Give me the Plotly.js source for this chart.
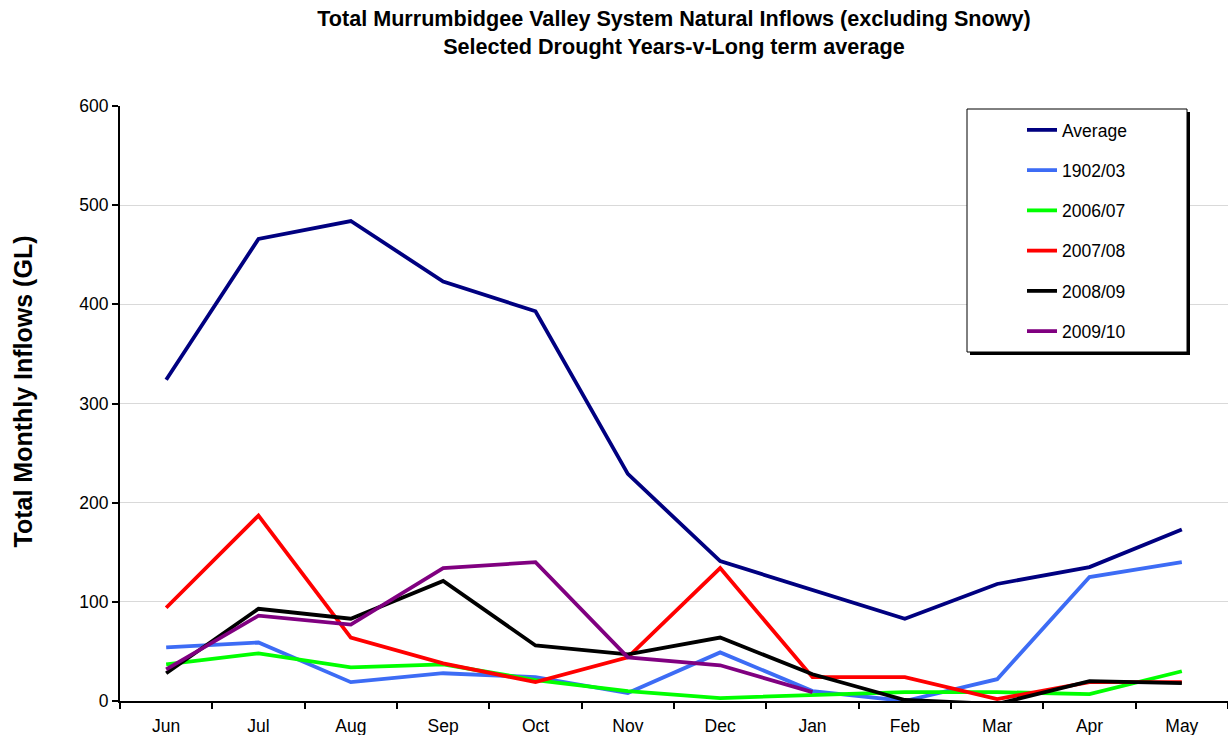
<!DOCTYPE html>
<html>
<head>
<meta charset="utf-8">
<script src="https://cdn.plot.ly/plotly-3.0.1.min.js"></script>
<style>html,body{margin:0;padding:0;background:#fff;}#chart{width:1228px;height:735px;}</style>
</head>
<body>
<div id="chart"></div>
<script>
const months = ["Jun","Jul","Aug","Sep","Oct","Nov","Dec","Jan","Feb","Mar","Apr","May"];
const average = [324, 466, 484, 423, 393, 229, 141, 112, 83, 118, 135, 173];
const y1902 = [54, 59, 19, 28, 24, 8, 49, 10, 0, 22, 125, 140];
const y2006 = [37, 48, 34, 37, 21, 10, 3, 6, 9, 9, 7, 30];
const y2007 = [94, 187, 64, 38, 19, 44, 134, 24, 24, 2, 19, 19];
const y2008 = [28, 93, 83, 121, 56, 47, 64, 27, 1, -3, 20, 18];
const y2009 = [32, 86, 77, 134, 140, 44, 36, 9, null, null, null, null];
const seriesNames = ["Average","1902/03","2006/07","2007/08","2008/09","2009/10"];
const seriesColors = ["#000080","#3d6cf5","#00ff00","#ff0000","#000000","#800080"];
const seriesData = [average, y1902, y2006, y2007, y2008, y2009];
const yAxisTitle = "Total Monthly Inflows (GL)";

const FONT = "Liberation Sans, Arial, sans-serif";
const traces = seriesData.map((d, i) => ({
  type: "scatter", mode: "lines", x: months, y: d, name: seriesNames[i],
  legendgroup: "g" + i,
  line: {color: seriesColors[i], width: 3.8},
  connectgaps: false
}));

// paper-coordinate helpers (plot area 120..1228 x, 106..701 y)
const px = v => (v - 120) / 1108;
const py = v => (701 - v) / 595;

const layout = {
  width: 1228, height: 735,
  margin: {l: 120, r: 0, t: 106, b: 34},
  paper_bgcolor: "#fff", plot_bgcolor: "#fff",
  font: {family: FONT, size: 17.5, color: "#000"},
  title: {
    text: "<b>Total Murrumbidgee Valley System Natural Inflows (excluding Snowy)<br>Selected Drought Years-v-Long term average</b>",
    font: {family: FONT, size: 21.6, color: "#000"},
    x: 0.5, xref: "paper", xanchor: "center",
    y: 1 - 26/735, yref: "container", yanchor: "top"
  },
  xaxis: {
    type: "category", range: [-0.5, 11.5], fixedrange: true,
    showline: true, linecolor: "#000", linewidth: 2,
    ticks: "outside", tickson: "boundaries", ticklen: 6, tickwidth: 2, tickcolor: "#000",
    showgrid: false, zeroline: false, ticklabelstandoff: 8,
    tickfont: {family: FONT, size: 17.5, color: "#000"}
  },
  yaxis: {
    range: [0, 600], dtick: 100, fixedrange: true,
    showline: true, linecolor: "#000", linewidth: 2,
    ticks: "outside", ticklen: 6, tickwidth: 2, tickcolor: "#000",
    showgrid: true, gridcolor: "#d9d9d9", gridwidth: 1, zeroline: false,
    tickfont: {family: FONT, size: 17.5, color: "#000"}
  },
  annotations: [
    {text: "<b>" + yAxisTitle + "</b>", xref: "paper", yref: "paper",
     x: px(22), y: py(391.5), xanchor: "center", yanchor: "middle",
     textangle: -90, showarrow: false, font: {family: FONT, size: 25, color: "#000"}}
  ],
  showlegend: true,
  legend: {
    x: px(1022), y: py(112), xanchor: "left", yanchor: "top",
    bgcolor: "rgba(0,0,0,0)", borderwidth: 0,
    font: {family: FONT, size: 17.5, color: "#000"},
    tracegroupgap: 14.5, itemwidth: 30
  },
  shapes: [
    {type: "rect", xref: "paper", yref: "paper", x0: px(970), x1: px(1190), y0: py(355), y1: py(112),
     fillcolor: "#000", line: {width: 0}, layer: "above"},
    {type: "rect", xref: "paper", yref: "paper", x0: px(967), x1: px(1187), y0: py(352), y1: py(109),
     fillcolor: "#fff", line: {color: "#000", width: 1}, layer: "above"}
  ]
};

Plotly.newPlot("chart", traces, layout, {displayModeBar: false, staticPlot: true});
</script>
</body>
</html>
